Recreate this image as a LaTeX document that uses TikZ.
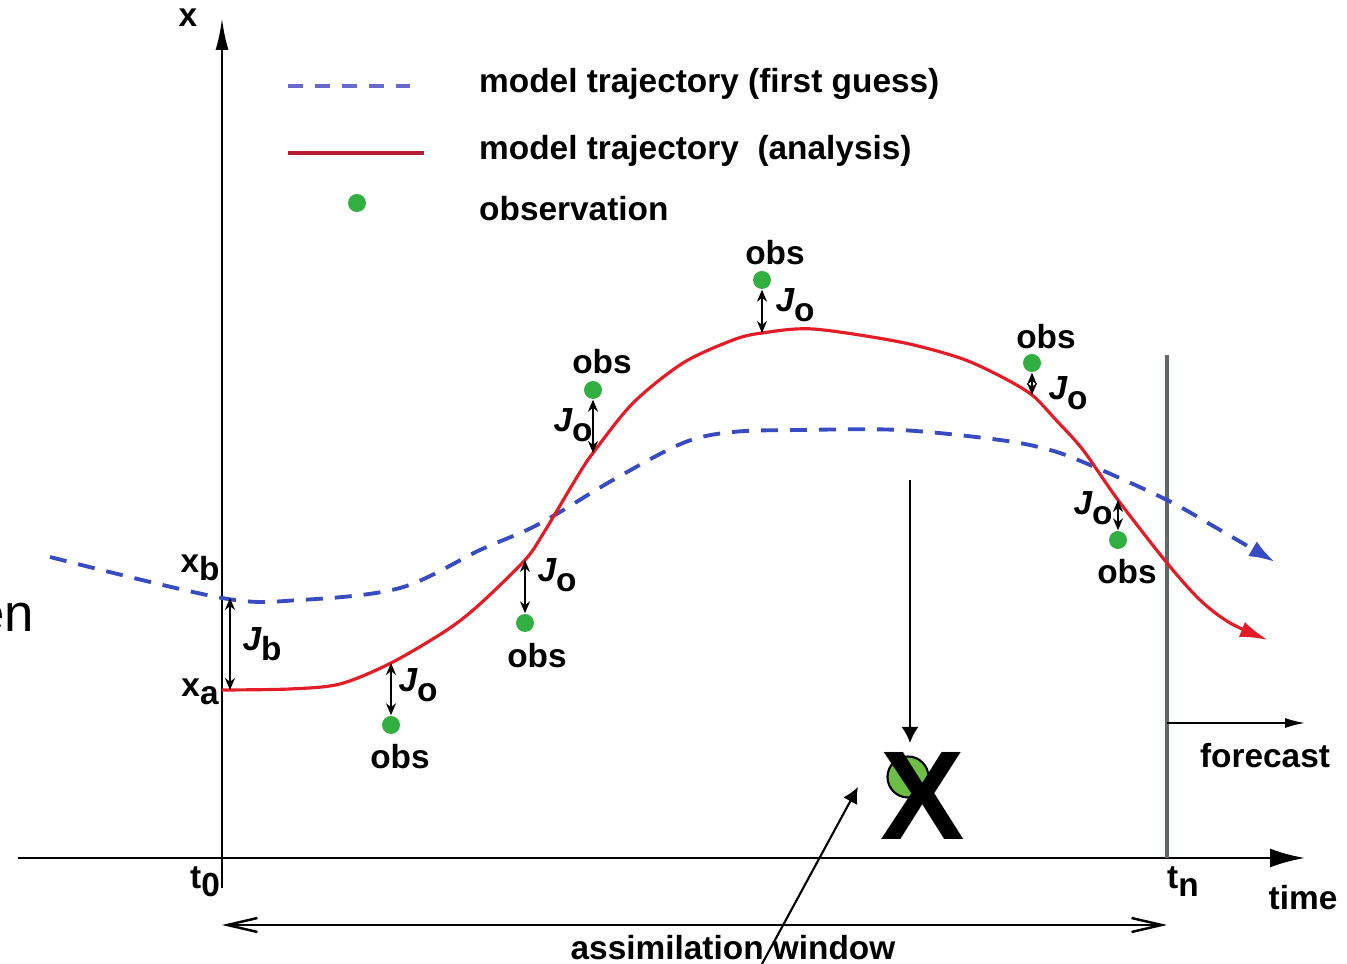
\documentclass[tikz,border=0pt]{standalone}
\usepackage{fontspec}
\setmainfont{Liberation Sans}
\usepackage{xcolor}
\usetikzlibrary{arrows.meta,positioning,calc}

\definecolor{guessblue}{RGB}{55,75,195}
\definecolor{legblue}{RGB}{105,105,205}
\definecolor{anared}{RGB}{228,28,38}
\definecolor{legred}{RGB}{180,30,50}
\definecolor{obsgreen}{RGB}{50,175,65}
\definecolor{hidgreen}{RGB}{108,190,69}
\definecolor{tngray}{RGB}{95,105,105}

\newcommand{\lowsub}[2]{#1\raisebox{-0.45ex}{#2}}
\newcommand{\Jsub}[1]{{\itshape J}\raisebox{-0.3em}{#1}}

\tikzset{
  lbl/.style={font=\fontsize{9.5}{11}\selectfont\bfseries, inner sep=1pt},
  obsdot/.style={circle, fill=obsgreen, minimum size=1.8mm, inner sep=0pt},
  joarr/.style={{Stealth[length=1.2mm,width=1mm]}-{Stealth[length=1.2mm,width=1mm]}, line width=0.5pt},
  guess/.style={guessblue, line width=1.1pt, dash pattern=on 1.7mm off 1.2mm},
  analysis/.style={anared, line width=0.9pt},
}

\begin{document}
\begin{tikzpicture}
\useasboundingbox (0,0) rectangle (13.47,9.64);

% cut-off word at the left edge
\node[font=\fontsize{15}{18}\selectfont, anchor=base east, inner sep=0pt] (cut) at (0.35,3.32) {en};

% Axes
\coordinate (tz) at (2.22,1.06);
\coordinate (tn) at (11.67,1.06);
\draw[thick,-{Latex[length=3.5mm,width=1.9mm]}] (0.18,1.06) -- (13.05,1.06);
\draw[thick,-{Latex[length=3.2mm,width=1.3mm]}] (2.22,0.76) -- (2.22,9.46);
\node[lbl] (xaxis) at (1.88,9.46) {x};
\node[lbl] (time) at (13.03,0.66) {time};
\node[lbl] (t0) at (2.05,0.82) {\lowsub{t}{0}};
\node[lbl] (tnlbl) at (11.83,0.82) {\lowsub{t}{n}};

% End of the window, forecast
\draw[tngray,line width=1.2pt] (11.67,6.09) -- (tn);
\draw[line width=0.5pt,-{Latex[length=2mm,width=1mm]}] (11.67,2.41) -- (13.05,2.41);
\node[lbl] (fc) at (12.65,2.08) {forecast};

% Assimilation window
\draw[line width=0.7pt,{Straight Barb[length=3mm,width=1.4mm]}-{Straight Barb[length=3mm,width=1.4mm]}]
  ([yshift=-6.7mm]tz) -- ([yshift=-6.7mm]tn);
\node[lbl] (win) at (7.33,0.16) {assimilation window};

% Legend
\draw[legblue, line width=1.2pt, dash pattern=on 1.5mm off 1.2mm] (2.88,8.78) -- (4.10,8.78);
\node[lbl,anchor=west] (leg1) at (4.75,8.80) {model trajectory (first guess)};
\draw[legred, line width=1.4pt] (2.88,8.11) -- (4.24,8.11);
\node[lbl,anchor=west] (leg2) at (4.75,8.13) {model trajectory\ \ (analysis)};
\node[obsdot] (legdot) at (3.57,7.61) {};
\node[lbl,anchor=west] (leg3) at (4.75,7.55) {observation};

% First guess trajectory
\draw[guess,-{Latex[length=2.6mm,width=1.7mm]}] plot[smooth,tension=0.55] coordinates {
  (0.50,4.07) (2.22,3.66) (3.00,3.64) (4.00,3.76) (4.80,4.14) (5.27,4.34) (5.60,4.52)
  (6.13,4.84) (6.83,5.21) (7.33,5.32) (8.00,5.34) (9.00,5.34) (10.00,5.24) (10.50,5.14)
  (10.90,4.99) (11.67,4.64) (12.20,4.34) (12.75,4.02)};

% Analysis trajectory
\draw[analysis,-{Latex[length=2.8mm,width=1.6mm]}] plot[smooth,tension=0.5] coordinates {
  (2.22,2.74) (2.90,2.75) (3.40,2.80) (3.91,3.01) (4.47,3.34) (4.80,3.60) (5.25,4.04)
  (5.43,4.30) (5.77,4.87) (5.93,5.11) (6.33,5.61) (6.83,6.01) (7.33,6.24) (7.62,6.31)
  (8.13,6.35) (9.00,6.22) (9.60,6.06) (10.00,5.88) (10.32,5.69) (10.56,5.44) (10.83,5.14)
  (11.18,4.64) (11.67,4.01) (12.00,3.64) (12.30,3.41) (12.68,3.24)};

% Background term
\coordinate (xbpt) at (2.30,3.66);
\coordinate (xapt) at (2.30,2.74);
\draw[joarr] (xbpt) -- (xapt);
\node[lbl] (xb) at (2.00,3.96) {\lowsub{x}{b}};
\node[lbl] (xa) at (2.00,2.72) {\lowsub{x}{a}};
\node[lbl] (jb) at (2.62,3.20) {\Jsub{b}};

% Observations and their misfits
\coordinate (c1) at (3.91,3.01);
\coordinate (c2) at (5.25,4.04);
\coordinate (c3) at (5.93,5.11);
\coordinate (c4) at (7.62,6.31);
\coordinate (c5) at (10.32,5.69);
\coordinate (c6) at (11.18,4.64);
\node[obsdot] (o1) at (3.91,2.39) {};
\node[obsdot] (o2) at (5.25,3.41) {};
\node[obsdot] (o3) at (5.93,5.74) {};
\node[obsdot] (o4) at (7.62,6.84) {};
\node[obsdot] (o5) at (10.32,6.01) {};
\node[obsdot] (o6) at (11.18,4.24) {};
\draw[joarr] (o1) -- (c1);
\draw[joarr] (o2) -- (c2);
\draw[joarr] (o3) -- (c3);
\draw[joarr] (o4) -- (c4);
\draw[joarr] (o5) -- (c5);
\draw[joarr] (o6) -- (c6);
\node[lbl] (jo1) at (4.18,2.79) {\Jsub{o}};
\node[lbl] (jo2) at (5.57,3.89) {\Jsub{o}};
\node[lbl] (jo3) at (5.73,5.39) {\Jsub{o}};
\node[lbl] (jo4) at (7.95,6.59) {\Jsub{o}};
\node[lbl] (jo5) at (10.68,5.71) {\Jsub{o}};
\node[lbl] (jo6) at (10.93,4.56) {\Jsub{o}};
\node[lbl] (ob1) at (4.00,2.07) {obs};
\node[lbl] (ob2) at (5.37,3.08) {obs};
\node[lbl] (ob3) at (6.02,6.02) {obs};
\node[lbl] (ob4) at (7.75,7.11) {obs};
\node[lbl] (ob5) at (10.46,6.27) {obs};
\node[lbl] (ob6) at (11.27,3.92) {obs};

% Crossed out observation
\node[circle, draw=black, line width=0.6pt, fill=hidgreen, minimum size=4.1mm, inner sep=0pt] (hid) at (9.08,1.87) {};
\node[font=\fontsize{36}{40}\selectfont\bfseries, inner sep=0pt, anchor=base] (bigx) at (9.23,1.24) {X};
\coordinate (ptop) at (9.10,4.84);
\coordinate (ptip) at (9.10,2.21);
\draw[line width=0.6pt,-{Latex[length=1.6mm,width=1.7mm]}] (ptop) -- (ptip);
\coordinate (pbot) at (7.62,0);
\coordinate (pend) at (8.58,1.77);
\draw[line width=0.6pt,-{Latex[length=1.6mm,width=1.6mm]}] (pbot) -- (pend);
\end{tikzpicture}
\end{document}
